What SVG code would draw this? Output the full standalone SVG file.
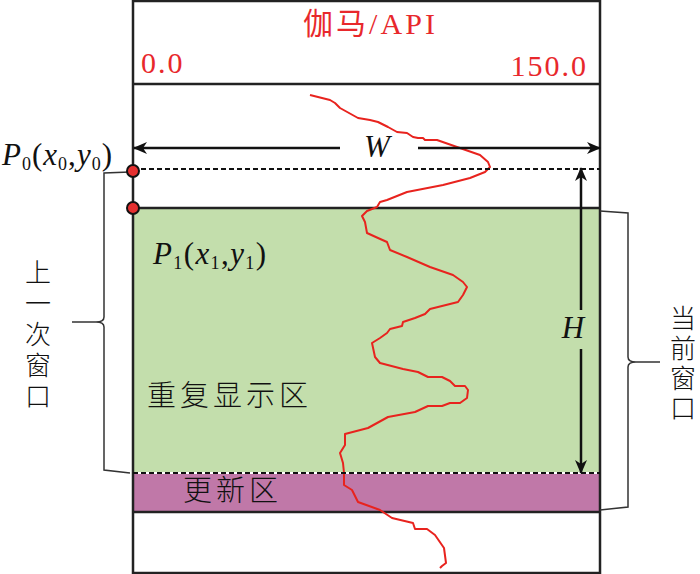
<svg xmlns="http://www.w3.org/2000/svg" width="700" height="574" viewBox="0 0 700 574">
<style>
.frame{fill:none;stroke:#222;stroke-width:2.5}
.ln{stroke:#222;stroke-width:2.5;fill:none}
.dash{stroke:#111;stroke-width:2.2;stroke-dasharray:5 3;fill:none}
.arr{stroke:#111;stroke-width:2.5;fill:none;marker-end:url(#ah)}
.brace{stroke:#333;stroke-width:1.5;fill:none}
.red{fill:#E8282C;font-family:"Liberation Serif","Noto Sans CJK SC",serif;font-size:30px;letter-spacing:2px}
.math{fill:#111;font-family:"Liberation Serif",serif;font-size:31px}
.it{font-style:italic}
.cjk{fill:#111;font-family:"Noto Sans CJK SC","Liberation Serif",sans-serif;font-size:29px;font-weight:300}
.vcjk{fill:#111;font-family:"Noto Sans CJK SC","Liberation Serif",sans-serif;font-size:26px;font-weight:300;writing-mode:vertical-rl}
.curve{fill:none;stroke:#E8231E;stroke-width:2;stroke-linejoin:round}
.dot{fill:#E53030;stroke:#111;stroke-width:2}
</style>
<defs>
<marker id="ah" markerWidth="16" markerHeight="14" refX="13" refY="6" orient="auto" markerUnits="userSpaceOnUse">
<path d="M0,0 L14,6 L0,12 L4,6 z" fill="#111"/>
</marker>
</defs>

<g id="track">
<rect x="0" y="0" width="700" height="574" fill="#fff"/>
<rect id="green" x="133" y="208" width="467" height="265" fill="#C3DEAC"/>
<rect id="purple" x="133" y="473" width="467" height="39" fill="#C078A8"/>
<rect class="frame" x="133" y="1" width="467" height="572"/>
<line class="ln" x1="133" y1="84" x2="600" y2="84"/>
<line class="ln" x1="133" y1="208" x2="600" y2="208"/>
<line class="ln" x1="133" y1="512" x2="600" y2="512"/>
</g>

<g id="header">
<text class="red" x="303" y="34" font-size="31" textLength="134" lengthAdjust="spacing">伽马/API</text>
<text class="red" x="141" y="73">0.0</text>
<text class="red" x="588" y="76" text-anchor="end">150.0</text>
</g>

<g id="curve">
<polyline class="curve" points="310,95 330,100 335,103 340,108 358,118 370,120 378,122 388,127 397,132 407,133 413,137 418,138 423,138 425,140 437,140 457,147 480,155 488,162 490,167 485,172 470,178 443,185 407,192 387,200 380,202 377,207 367,211 362,216 365,222 367,233 378,238 387,242 390,250 407,257 430,267 453,275 463,282 467,287 463,295 458,302 430,309 425,314 420,316 415,318 403,322 402,326 390,329 387,333 380,338 372,343 375,357 380,363 403,369 418,372 428,377 442,377 450,381 455,386 465,386 468,390 467,398 460,403 450,403 442,406 428,406 415,412 388,417 368,428 345,434 345,445 340,453 343,463 344,473 344,485 352,490 358,502 380,510 392,518 413,523 415,529 427,529 435,535 444,548 446,563 442,566 440,568"/>
</g>

<g id="connectors">
<line class="dash" x1="133" y1="169" x2="600" y2="169"/>
<line x1="133" y1="473" x2="600" y2="473" stroke="#fff" stroke-width="2.2"/>
<line class="dash" x1="133" y1="473" x2="600" y2="473"/>
<line class="arr" x1="340" y1="148" x2="134" y2="148"/>
<line class="arr" x1="418" y1="148" x2="600" y2="148"/>
<line class="arr" x1="581" y1="310" x2="581" y2="168"/>
<line class="arr" x1="581" y1="349" x2="581" y2="473"/>
<path class="brace" d="M130,172 L104,173 L104,317 Q104,322 96,322 L72,322 M96,322 Q104,322 104,327 L104,470 L130,473"/>
<path class="brace" d="M600,211 L628,213 L628,357 Q628,362 636,362 L660,362 M636,362 Q628,362 628,367 L628,507 L600,510"/>
</g>

<g id="P0">
<circle class="dot" cx="133" cy="171" r="6"/>
<text class="math" x="2" y="165" textLength="110" lengthAdjust="spacing"><tspan class="it">P</tspan><tspan font-size="18" dy="5">0</tspan><tspan dy="-5">(</tspan><tspan class="it">x</tspan><tspan font-size="18" dy="5">0</tspan><tspan dy="-5">,</tspan><tspan class="it">y</tspan><tspan font-size="18" dy="5">0</tspan><tspan dy="-5">)</tspan></text>
</g>

<g id="P1">
<circle class="dot" cx="133" cy="208" r="6"/>
<text class="math" x="153" y="264" textLength="113" lengthAdjust="spacing"><tspan class="it">P</tspan><tspan font-size="18" dy="5">1</tspan><tspan dy="-5">(</tspan><tspan class="it">x</tspan><tspan font-size="18" dy="5">1</tspan><tspan dy="-5">,</tspan><tspan class="it">y</tspan><tspan font-size="18" dy="5">1</tspan><tspan dy="-5">)</tspan></text>
</g>

<g id="W">
<text class="math it" x="377" y="157" text-anchor="middle">W</text>
</g>
<g id="H">
<text class="math it" x="573" y="338" text-anchor="middle">H</text>
</g>

<g id="repeat-zone">
<text class="cjk" x="147" y="406" letter-spacing="4">重复显示区</text>
</g>
<g id="update-zone">
<text class="cjk" x="183" y="501" letter-spacing="4">更新区</text>
</g>

<g id="prev-window">
<text class="vcjk" x="38" y="259" letter-spacing="5">上一次窗口</text>
</g>

<g id="curr-window">
<text class="vcjk" x="683" y="305" letter-spacing="4">当前窗口</text>
</g>
</svg>
